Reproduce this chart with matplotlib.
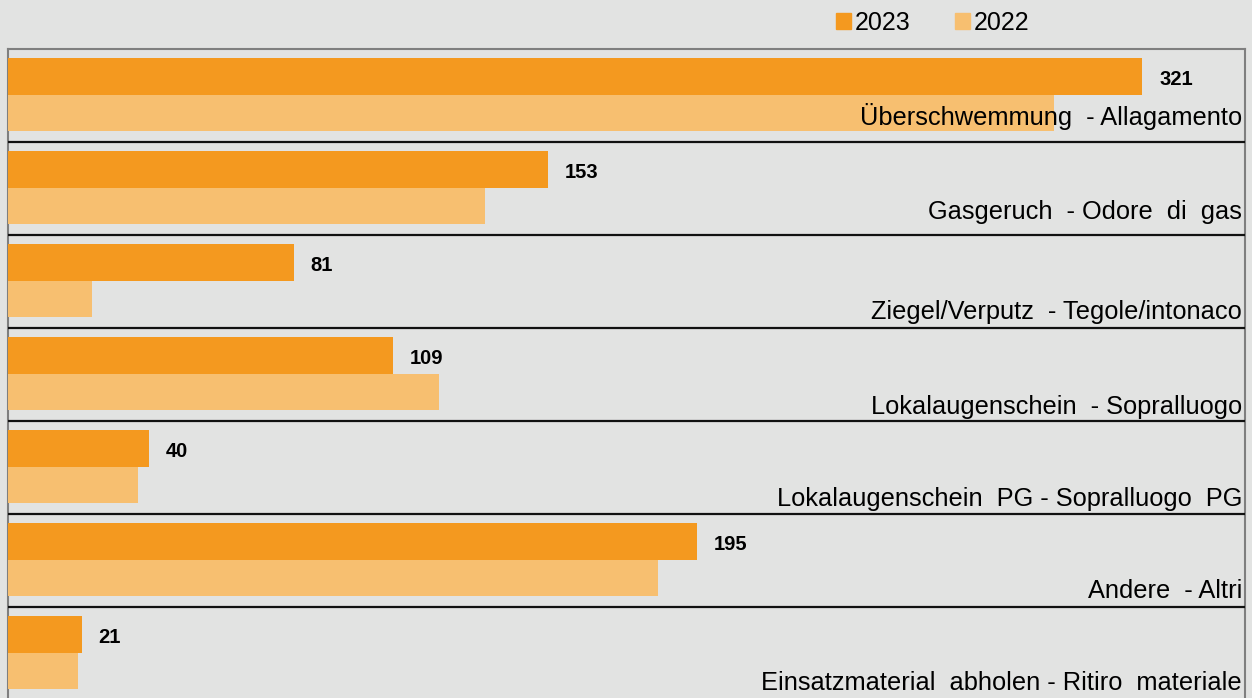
import numpy as np
import matplotlib
matplotlib.use('Agg')
import matplotlib.pyplot as plt
from matplotlib.patches import Patch

# Data
categories = [
    'Überschwemmung  - Allagamento',
    'Gasgeruch  - Odore  di  gas',
    'Ziegel/Verputz  - Tegole/intonaco',
    'Lokalaugenschein  - Sopralluogo',
    'Lokalaugenschein  PG - Sopralluogo  PG',
    'Andere  - Altri',
    'Einsatzmaterial  abholen - Ritiro  materiale',
]
values_2023 = [321, 153, 81, 109, 40, 195, 21]
values_2022 = [296, 135, 24, 122, 37, 184, 20]
series_names = ['2023', '2022']

# Styling
bg = '#e2e3e2'
c2023 = '#f4991f'
c2022 = '#f7bf70'
label_offset = [0.82, 0.83, 0.90, 0.92, 0.91, 0.90, 0.89]

plt.rcParams['font.family'] = ['Liberation Sans', 'DejaVu Sans']

W, H = 1252, 698
fig = plt.figure(figsize=(W / 100, H / 100), dpi=100, facecolor=bg)
ax = fig.add_axes([7.5 / W, (H - 700) / H, (1245 - 7.5) / W, 651 / H])
ax.set_facecolor(bg)

n = len(categories)
y = np.arange(n)
bh = 0.39
ax.barh(y + 0.1 + bh / 2, values_2023, height=bh, color=c2023, zorder=3)
ax.barh(y + 0.1 + bh * 1.5, values_2022, height=bh, color=c2022, zorder=3)

ax.set_xlim(0, 350)
ax.set_ylim(n, 0)

# value labels on 2023 bars
for i, v in enumerate(values_2023):
    ax.annotate(str(v), (v, i + 0.1 + bh / 2), xytext=(12, -2),
                textcoords='offset points', va='center', ha='left',
                fontsize=14.5, fontweight='bold', color='black', zorder=5)

# category labels, right aligned
for i, lab in enumerate(categories):
    ax.text(0.9975, i + label_offset[i], lab, transform=ax.get_yaxis_transform(),
            ha='right', va='baseline', fontsize=18.3, color='black', zorder=5)

# separators between groups
for i in range(1, n):
    ax.axhline(i, color='#111111', lw=1.6, zorder=4)

ax.set_xticks([])
ax.set_yticks([])
for side in ['top', 'left', 'right']:
    ax.spines[side].set_color('#7f7f7f')
    ax.spines[side].set_linewidth(1.5)
ax.spines['bottom'].set_visible(False)

handles = [Patch(color=c2023), Patch(color=c2022)]
fig.legend(handles, series_names, loc='center left',
           bbox_to_anchor=(823 / W, 1 - 23 / H), ncol=2, frameon=False,
           fontsize=18, handlelength=0.6, handleheight=0.6,
           handletextpad=0.15, columnspacing=1.8, borderpad=0)

fig.savefig('out.png', dpi=100, facecolor=bg)
